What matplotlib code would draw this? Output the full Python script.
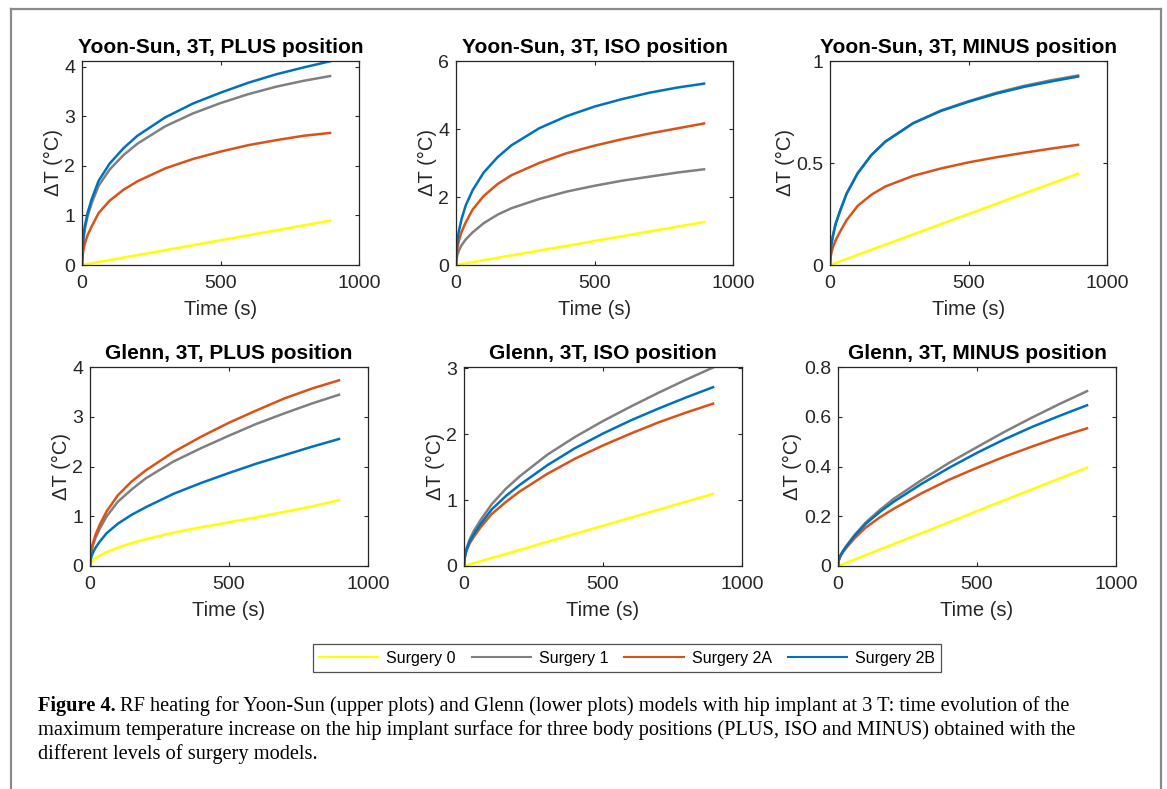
import numpy as np
import matplotlib
matplotlib.use("Agg")
import matplotlib.pyplot as plt
from matplotlib.lines import Line2D

## Data ##
t = [0, 2, 5, 10, 20, 35, 60, 100, 150, 200, 300, 400, 500, 600, 700, 800, 900]      # time [s]

labels = ["Surgery 0", "Surgery 1", "Surgery 2A", "Surgery 2B"]
colors = ["#FFFF00", "#808080", "#D95319", "#0072BD"]

titles = ["Yoon-Sun, 3T, PLUS position", "Yoon-Sun, 3T, ISO position", "Yoon-Sun, 3T, MINUS position",
          "Glenn, 3T, PLUS position", "Glenn, 3T, ISO position", "Glenn, 3T, MINUS position"]

# Yoon-Sun PLUS
ys_plus_s0  = [0, 0.002, 0.005, 0.01, 0.02, 0.035, 0.06, 0.10, 0.15, 0.20, 0.30, 0.40, 0.50, 0.60, 0.70, 0.80, 0.90]
ys_plus_s1  = [0, 0.32, 0.50, 0.72, 0.98, 1.25, 1.60, 1.93, 2.22, 2.45, 2.80, 3.06, 3.27, 3.45, 3.60, 3.72, 3.82]
ys_plus_s2a = [0, 0.18, 0.30, 0.43, 0.60, 0.78, 1.05, 1.30, 1.52, 1.69, 1.95, 2.14, 2.29, 2.42, 2.52, 2.61, 2.67]
ys_plus_s2b = [0, 0.35, 0.55, 0.78, 1.05, 1.33, 1.70, 2.05, 2.36, 2.61, 2.98, 3.26, 3.48, 3.68, 3.85, 3.99, 4.12]

# Yoon-Sun ISO
ys_iso_s0  = [0, 0.003, 0.007, 0.014, 0.028, 0.049, 0.085, 0.141, 0.212, 0.282, 0.423, 0.564, 0.706, 0.847, 0.988, 1.129, 1.27]
ys_iso_s1  = [0, 0.17, 0.30, 0.42, 0.58, 0.75, 0.96, 1.23, 1.48, 1.67, 1.94, 2.16, 2.33, 2.48, 2.60, 2.72, 2.82]
ys_iso_s2a = [0, 0.28, 0.50, 0.70, 0.97, 1.25, 1.63, 2.03, 2.38, 2.64, 3.00, 3.29, 3.51, 3.70, 3.87, 4.02, 4.17]
ys_iso_s2b = [0, 0.40, 0.70, 0.98, 1.35, 1.75, 2.20, 2.72, 3.17, 3.52, 4.02, 4.38, 4.66, 4.88, 5.07, 5.22, 5.34]

# Yoon-Sun MINUS
ys_min_s0  = [0, 0.001, 0.0025, 0.005, 0.01, 0.0175, 0.03, 0.05, 0.075, 0.10, 0.15, 0.20, 0.25, 0.30, 0.35, 0.40, 0.45]
ys_min_s1  = [0, 0.06, 0.10, 0.14, 0.20, 0.26, 0.35, 0.45, 0.54, 0.605, 0.695, 0.757, 0.803, 0.844, 0.878, 0.906, 0.93]
ys_min_s2a = [0, 0.035, 0.06, 0.085, 0.12, 0.16, 0.22, 0.29, 0.345, 0.385, 0.437, 0.473, 0.503, 0.528, 0.55, 0.571, 0.59]
ys_min_s2b = [0, 0.06, 0.10, 0.14, 0.20, 0.26, 0.35, 0.45, 0.54, 0.605, 0.695, 0.755, 0.80, 0.84, 0.873, 0.90, 0.925]

# Glenn PLUS
gl_plus_s0  = [0, 0.05, 0.08, 0.11, 0.16, 0.21, 0.28, 0.37, 0.46, 0.54, 0.67, 0.78, 0.88, 0.98, 1.09, 1.20, 1.33]
gl_plus_s1  = [0, 0.18, 0.29, 0.41, 0.57, 0.75, 1.00, 1.29, 1.54, 1.76, 2.10, 2.37, 2.62, 2.86, 3.07, 3.27, 3.45]
gl_plus_s2a = [0, 0.20, 0.32, 0.45, 0.63, 0.83, 1.10, 1.42, 1.70, 1.92, 2.29, 2.60, 2.88, 3.13, 3.37, 3.57, 3.74]
gl_plus_s2b = [0, 0.11, 0.18, 0.26, 0.37, 0.49, 0.66, 0.85, 1.03, 1.18, 1.45, 1.67, 1.87, 2.06, 2.23, 2.40, 2.56]

# Glenn ISO
gl_iso_s0  = [0, 0.0024, 0.006, 0.012, 0.024, 0.043, 0.073, 0.122, 0.183, 0.244, 0.367, 0.489, 0.611, 0.733, 0.856, 0.978, 1.10]
gl_iso_s1  = [0, 0.12, 0.20, 0.28, 0.40, 0.53, 0.70, 0.94, 1.17, 1.36, 1.69, 1.96, 2.20, 2.42, 2.63, 2.83, 3.02]
gl_iso_s2a = [0, 0.10, 0.17, 0.24, 0.34, 0.44, 0.59, 0.79, 0.97, 1.13, 1.40, 1.63, 1.83, 2.01, 2.18, 2.33, 2.47]
gl_iso_s2b = [0, 0.11, 0.18, 0.26, 0.37, 0.48, 0.64, 0.86, 1.06, 1.23, 1.53, 1.79, 2.01, 2.21, 2.39, 2.56, 2.72]

# Glenn MINUS
gl_min_s0  = [0, 0.0009, 0.0022, 0.0044, 0.0088, 0.0154, 0.0265, 0.0441, 0.0662, 0.0882, 0.132, 0.176, 0.221, 0.265, 0.309, 0.353, 0.397]
gl_min_s1  = [0, 0.02, 0.032, 0.045, 0.064, 0.088, 0.125, 0.175, 0.225, 0.27, 0.345, 0.415, 0.478, 0.54, 0.598, 0.653, 0.705]
gl_min_s2a = [0, 0.019, 0.03, 0.042, 0.059, 0.08, 0.112, 0.155, 0.195, 0.23, 0.292, 0.347, 0.395, 0.44, 0.481, 0.52, 0.555]
gl_min_s2b = [0, 0.02, 0.032, 0.045, 0.063, 0.086, 0.122, 0.17, 0.217, 0.258, 0.33, 0.395, 0.455, 0.51, 0.56, 0.605, 0.648]

series = [
    [ys_plus_s0, ys_plus_s1, ys_plus_s2a, ys_plus_s2b],
    [ys_iso_s0, ys_iso_s1, ys_iso_s2a, ys_iso_s2b],
    [ys_min_s0, ys_min_s1, ys_min_s2a, ys_min_s2b],
    [gl_plus_s0, gl_plus_s1, gl_plus_s2a, gl_plus_s2b],
    [gl_iso_s0, gl_iso_s1, gl_iso_s2a, gl_iso_s2b],
    [gl_min_s0, gl_min_s1, gl_min_s2a, gl_min_s2b],
]
ylims = [(0, 4.12), (0, 6), (0, 1), (0, 4), (0, 3.02), (0, 0.8)]
yticks = [[0, 1, 2, 3, 4], [0, 2, 4, 6], [0, 0.5, 1], [0, 1, 2, 3, 4], [0, 1, 2, 3],
          [0, 0.2, 0.4, 0.6, 0.8]]
yticklabels = [["0", "1", "2", "3", "4"], ["0", "2", "4", "6"], ["0", "0.5", "1"],
               ["0", "1", "2", "3", "4"], ["0", "1", "2", "3"], ["0", "0.2", "0.4", "0.6", "0.8"]]

## Figure ##
plt.rcParams['font.family'] = ['Liberation Sans', 'DejaVu Sans']
fig = plt.figure(figsize=(11.67, 7.89), dpi=100)
W, H = 1167.0, 789.0

# axes boxes in pixels: left, top, width, height
boxes = [(82, 61, 277, 204), (456, 61, 277, 204), (830, 61, 277, 204),
         (90, 367, 278, 199), (464, 367, 278, 199), (838, 367, 278, 199)]

ink = "#262626"
for k in range(6):
    l, tp, w, h = boxes[k]
    ax = fig.add_axes([l / W, 1 - (tp + h) / H, w / W, h / H])
    for j in range(4):
        ax.plot(t, series[k][j], color=colors[j], lw=1.8, solid_capstyle='butt')
    ax.set_xlim(0, 1000)
    ax.set_ylim(*ylims[k])
    ax.set_xticks([0, 500, 1000])
    ax.set_xticklabels(["0", "500", "1000"])
    ax.set_yticks(yticks[k])
    ax.set_yticklabels(yticklabels[k])
    ax.tick_params(direction='in', top=True, right=True, length=3, width=0.8,
                   colors=ink, labelsize=14, pad=5)
    ax.tick_params(axis='x', pad=7)
    for s in ax.spines.values():
        s.set_color(ink)
        s.set_linewidth(0.9)
    ax.set_title(titles[k], fontsize=15, fontweight='bold', color='black', pad=6)
    ax.set_ylabel("\u0394T (\u00b0C)", fontsize=14.5, color=ink, labelpad=1)
    ax.set_xlabel("Time (s)", fontsize=14.5, color=ink, labelpad=6)

# legend
handles = [Line2D([], [], color=colors[j], lw=1.5) for j in range(4)]
fig.legend(handles, labels, ncol=4, loc='center', bbox_to_anchor=(627 / W, 1 - 658 / H),
           fontsize=11.5, frameon=True, fancybox=False, edgecolor=ink, handlelength=3.7,
           columnspacing=1.0, handletextpad=0.5, borderpad=0.4, borderaxespad=0)
fig.legends[0].get_frame().set_linewidth(0.9)

# outer frame (open at the bottom)
fr = "#8a8a8a"
fig.add_artist(Line2D([11 / W, 11 / W], [0, 1 - 9 / H], color=fr, lw=1.6, transform=fig.transFigure))
fig.add_artist(Line2D([11 / W, 1161 / W], [1 - 9 / H, 1 - 9 / H], color=fr, lw=1.6, transform=fig.transFigure))
fig.add_artist(Line2D([1161 / W, 1161 / W], [0, 1 - 9 / H], color=fr, lw=1.6, transform=fig.transFigure))

# caption
cap_font = ['Liberation Serif', 'DejaVu Serif']
cap_lines = ["RF heating for Yoon-Sun (upper plots) and Glenn (lower plots) models with hip implant at 3 T: time evolution of the",
             "maximum temperature increase on the hip implant surface for three body positions (PLUS, ISO and MINUS) obtained with the",
             "different levels of surgery models."]
fs = 14.7
x0 = 38 / W
bold = fig.text(x0, 1 - 711 / H, "Figure 4.", family=cap_font, fontsize=fs, fontweight='bold',
                va='baseline', ha='left')
fig.canvas.draw()
bb = bold.get_window_extent(renderer=fig.canvas.get_renderer())
fig.text(bb.x1 / W + 4 / W, 1 - 711 / H, cap_lines[0], family=cap_font, fontsize=fs, va='baseline', ha='left')
fig.text(x0, 1 - 735 / H, cap_lines[1], family=cap_font, fontsize=fs, va='baseline', ha='left')
fig.text(x0, 1 - 759 / H, cap_lines[2], family=cap_font, fontsize=fs, va='baseline', ha='left')

fig.savefig("out.png", dpi=100)
